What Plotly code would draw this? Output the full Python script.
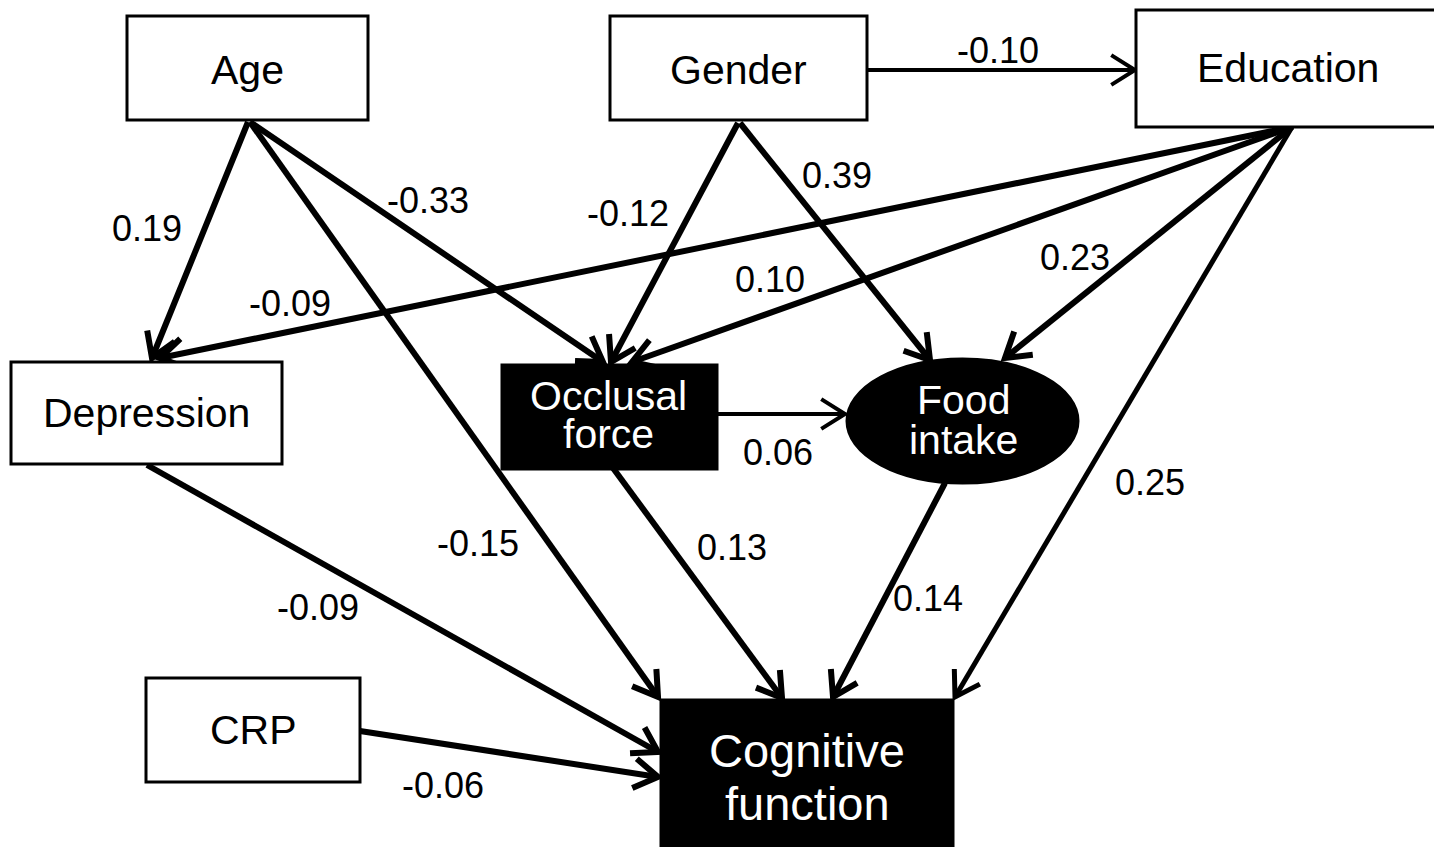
import math
import plotly.graph_objects as go

# ---- data ----
node_names = ["Age", "Gender", "Education", "Depression", "Occlusal force",
              "Food intake", "CRP", "Cognitive function"]
edge_sources = ["Age", "Age", "Age", "Gender", "Gender", "Gender",
                "Education", "Education", "Education", "Education",
                "Depression", "Occlusal force", "Occlusal force", "Food intake", "CRP"]
edge_targets = ["Depression", "Occlusal force", "Cognitive function", "Occlusal force",
                "Food intake", "Education", "Depression", "Occlusal force", "Food intake",
                "Cognitive function", "Cognitive function", "Food intake",
                "Cognitive function", "Cognitive function", "Cognitive function"]
edge_coefs = ["0.19", "-0.33", "-0.15", "-0.12", "0.39", "-0.10",
              "-0.09", "0.10", "0.23", "0.25", "-0.09", "0.06", "0.13", "0.14", "-0.06"]

# ---- layout (pixel geometry) ----
node_geom = {
    "Age": dict(shape="rect", box=(127, 16, 368, 120), fill="white", lines=[("Age", 247, 70)], size=41),
    "Gender": dict(shape="rect", box=(610, 16, 867, 120), fill="white", lines=[("Gender", 738, 70)], size=41),
    "Education": dict(shape="rect", box=(1136, 10, 1437, 127), fill="white", lines=[("Education", 1288, 68)], size=41),
    "Depression": dict(shape="rect", box=(11, 362, 282, 464), fill="white", lines=[("Depression", 146, 413)], size=41),
    "Occlusal force": dict(shape="rect", box=(502, 365, 717, 469), fill="black",
                           lines=[("Occlusal", 608, 396), ("force", 608, 434)], size=41),
    "Food intake": dict(shape="circle", box=(847, 359, 1078, 483), fill="black",
                        lines=[("Food", 963, 400), ("intake", 963, 440)], size=41),
    "CRP": dict(shape="rect", box=(146, 678, 360, 782), fill="white", lines=[("CRP", 253, 730)], size=41),
    "Cognitive function": dict(shape="rect", box=(661, 700, 953, 860), fill="black",
                               lines=[("Cognitive", 807, 750), ("function", 807, 803)], size=47),
}
edge_geom = [
    ((248, 122), (152, 358), 6, (147, 228)),
    ((250, 122), (603, 362), 6, (428, 200)),
    ((250, 122), (658, 697), 6, (478, 543)),
    ((738, 123), (611, 362), 6, (628, 213)),
    ((740, 123), (930, 360), 6, (837, 175)),
    ((867, 70), (1135, 70), 4, (998, 50)),
    ((1292, 127), (160, 358), 6, (290, 303)),
    ((1292, 127), (632, 362), 6, (770, 279)),
    ((1292, 127), (1005, 358), 6, (1075, 257)),
    ((1292, 127), (955, 697), 5, (1150, 482)),
    ((147, 465), (658, 752), 6, (318, 607)),
    ((717, 414), (845, 414), 4, (778, 452)),
    ((613, 468), (782, 698), 6, (732, 547)),
    ((945, 483), (833, 697), 6, (928, 598)),
    ((360, 731), (658, 777), 6, (443, 785)),
]

FONT = "Liberation Sans, Arial, sans-serif"
PAGE_OFFSET = 8  # browser body margin
fig = go.Figure()
shapes = []
annotations = []

for name in node_names:
    g = node_geom[name]
    x0, y0, x1, y1 = g["box"]
    shapes.append(dict(type=g["shape"], xref="x", yref="y", x0=x0, y0=y0, x1=x1, y1=y1,
                       line=dict(color="black", width=3), fillcolor=g["fill"], layer="above"))
    txtcol = "white" if g["fill"] == "black" else "black"
    for txt, tx, ty in g["lines"]:
        annotations.append(dict(x=tx, y=ty, xref="x", yref="y", text=txt, showarrow=False,
                                font=dict(family=FONT, size=g["size"], color=txtcol)))

HEAD_LEN = 28
HEAD_ANG = math.radians(32)
for src, dst, coef, (p0, p1, w, lab) in zip(edge_sources, edge_targets, edge_coefs, edge_geom):
    dx, dy = p1[0] - p0[0], p1[1] - p0[1]
    L = math.hypot(dx, dy)
    ux, uy = dx / L, dy / L
    wings = []
    for s in (1, -1):
        c, sn = math.cos(s * HEAD_ANG), math.sin(s * HEAD_ANG)
        rx, ry = ux * c - uy * sn, ux * sn + uy * c
        wings.append((p1[0] - HEAD_LEN * rx, p1[1] - HEAD_LEN * ry))
    xs = [p0[0], p1[0], None, wings[0][0], p1[0], wings[1][0]]
    ys = [p0[1], p1[1], None, wings[0][1], p1[1], wings[1][1]]
    fig.add_trace(go.Scatter(x=xs, y=ys, mode="lines", line=dict(color="black", width=w),
                             hoverinfo="skip", showlegend=False, name=f"{src} → {dst}"))
    annotations.append(dict(x=lab[0], y=lab[1], xref="x", yref="y", text=coef, showarrow=False,
                            font=dict(family=FONT, size=36, color="black")))

W, H = 1442 - PAGE_OFFSET, 847 - PAGE_OFFSET
fig.update_layout(
    width=W, height=H, margin=dict(l=0, r=0, t=0, b=0),
    paper_bgcolor="white", plot_bgcolor="white",
    xaxis=dict(range=[PAGE_OFFSET, PAGE_OFFSET + W], visible=False, fixedrange=True),
    yaxis=dict(range=[PAGE_OFFSET + H, PAGE_OFFSET], visible=False, fixedrange=True),
    shapes=shapes, annotations=annotations, showlegend=False,
)
fig.write_html("out.html")
